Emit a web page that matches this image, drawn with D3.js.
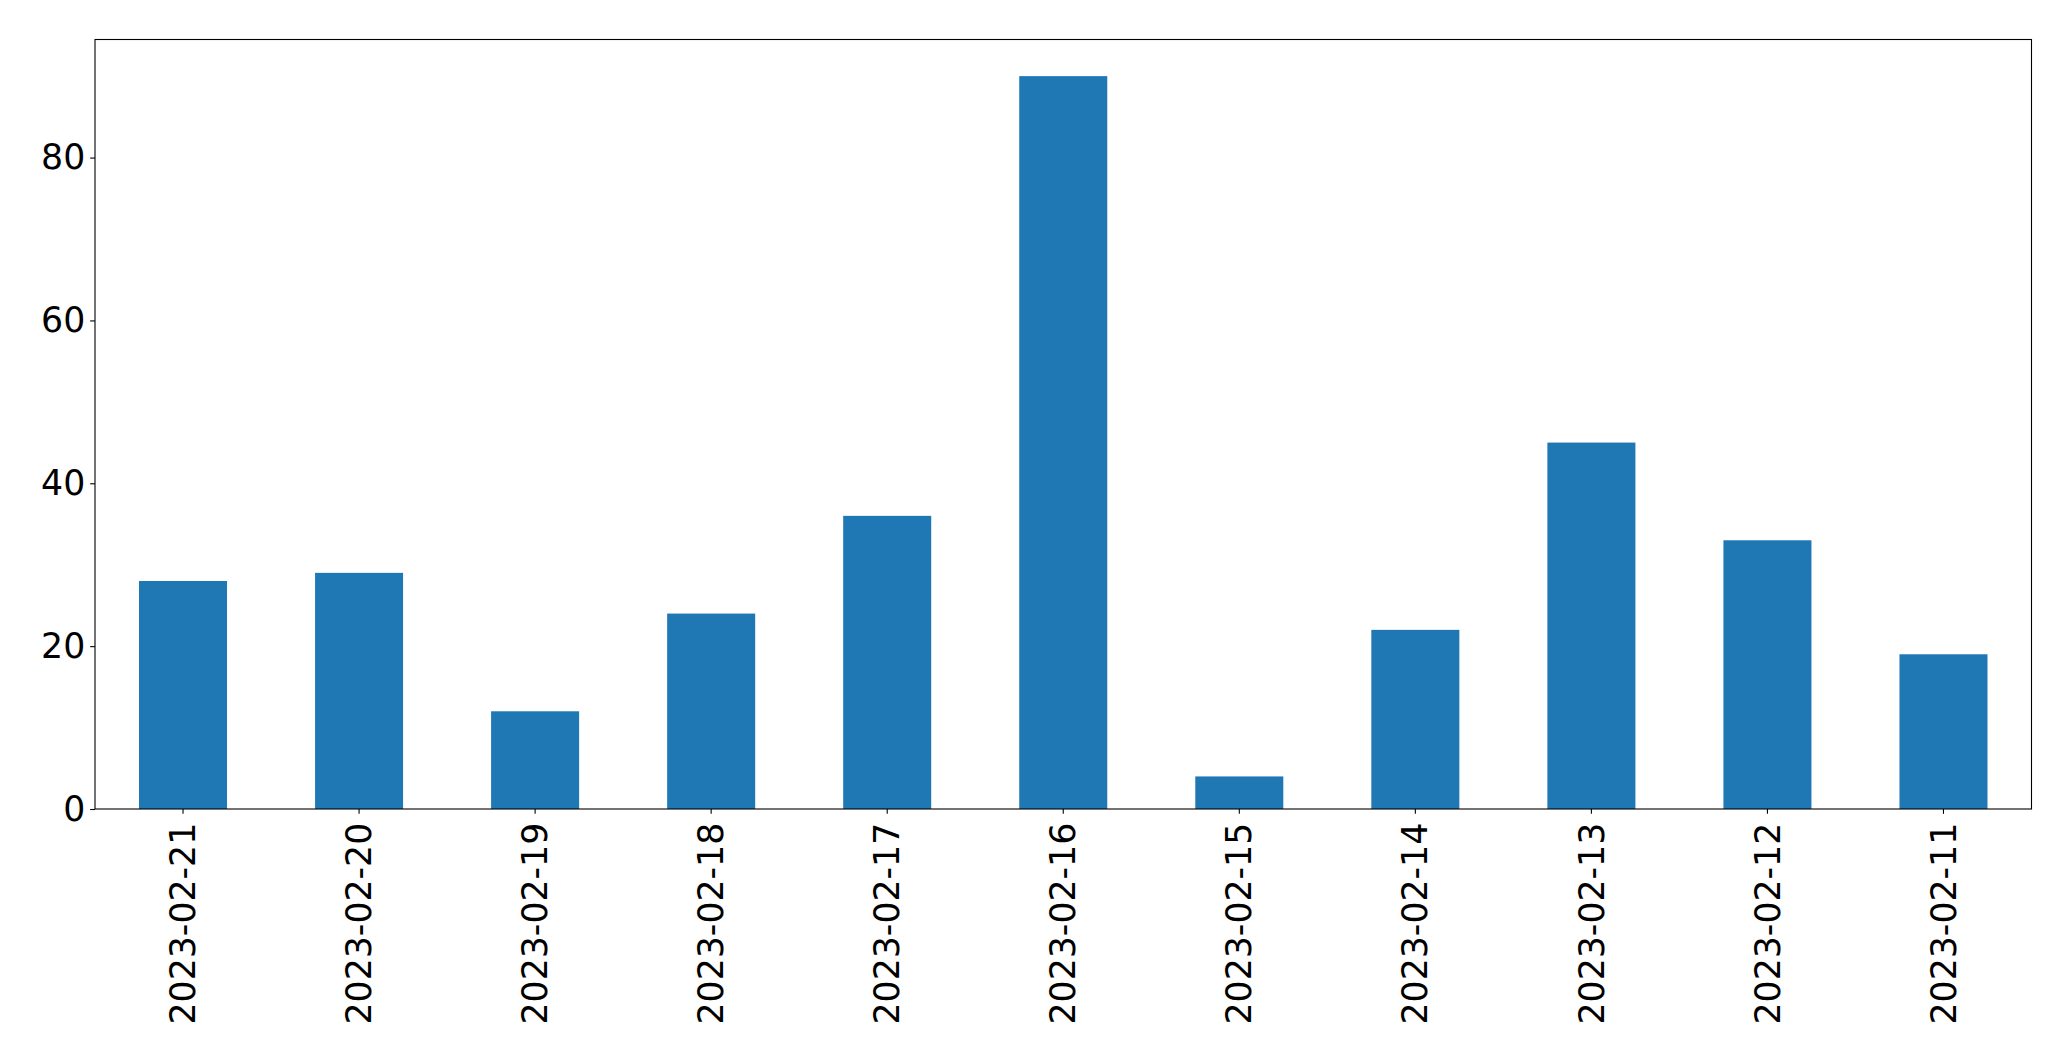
<!DOCTYPE html>
<html>
<head>
<meta charset="utf-8">
<script src="https://cdn.jsdelivr.net/npm/d3@7"></script>
<style>
  html, body { margin: 0; padding: 0; background: #fff; }
  svg { display: block; }
</style>
</head>
<body>
<svg id="chart" width="2071" height="1061"></svg>
<script>
const categories = ["2023-02-21","2023-02-20","2023-02-19","2023-02-18","2023-02-17","2023-02-16","2023-02-15","2023-02-14","2023-02-13","2023-02-12","2023-02-11"];
const values = [28, 29, 12, 24, 36, 90, 4, 22, 45, 33, 19];
const yTicks = [0, 20, 40, 60, 80];

const W = 2071, H = 1061;
const margin = { left: 95, right: 2071 - 2031.5, top: 39.5, bottom: 1061 - 809 };
const plotW = W - margin.left - margin.right;
const plotH = H - margin.top - margin.bottom;
const fontSize = 34.72;
const tickLen = 4.86, pad = 4.86;

const svg = d3.select("#chart");
const g = svg.append("g").attr("transform", `translate(${margin.left},${margin.top})`);

const x = d3.scaleBand().domain(categories).range([0, plotW]).paddingInner(0.5).paddingOuter(0.25);
const y = d3.scaleLinear().domain([0, d3.max(values) * 1.05]).range([plotH, 0]);

g.selectAll("rect.bar").data(values).enter().append("rect")
  .attr("class", "bar")
  .attr("x", (d, i) => x(categories[i]))
  .attr("y", d => y(d))
  .attr("width", x.bandwidth())
  .attr("height", d => y(0) - y(d))
  .attr("fill", "#1f77b4");

// Axes
const yAxis = d3.axisLeft(y).tickValues(yTicks).tickSize(tickLen).tickPadding(pad).tickFormat(d3.format("d"));
const yg = g.append("g").call(yAxis);
yg.select(".domain").remove();
yg.selectAll(".tick line").attr("stroke", "#000").attr("stroke-width", 1.1);
yg.selectAll(".tick text")
  .attr("font-family", "DejaVu Sans, sans-serif")
  .attr("font-size", fontSize)
  .attr("fill", "#000");

const xAxis = d3.axisBottom(x).tickSize(tickLen).tickPadding(pad);
const xg = g.append("g").attr("transform", `translate(0,${plotH})`).call(xAxis);
xg.select(".domain").remove();
xg.selectAll(".tick line").attr("stroke", "#000").attr("stroke-width", 1.1);
xg.selectAll(".tick text")
  .attr("font-family", "DejaVu Sans, sans-serif")
  .attr("font-size", fontSize)
  .attr("fill", "#000")
  .attr("transform", "rotate(-90)")
  .attr("text-anchor", "end")
  .attr("dy", "0.35em")
  .attr("x", -(tickLen + pad + 4))
  .attr("y", 0);

// Frame
g.append("rect")
  .attr("x", 0).attr("y", 0)
  .attr("width", plotW).attr("height", plotH)
  .attr("fill", "none")
  .attr("stroke", "#000")
  .attr("stroke-width", 1.1);
</script>
</body>
</html>
